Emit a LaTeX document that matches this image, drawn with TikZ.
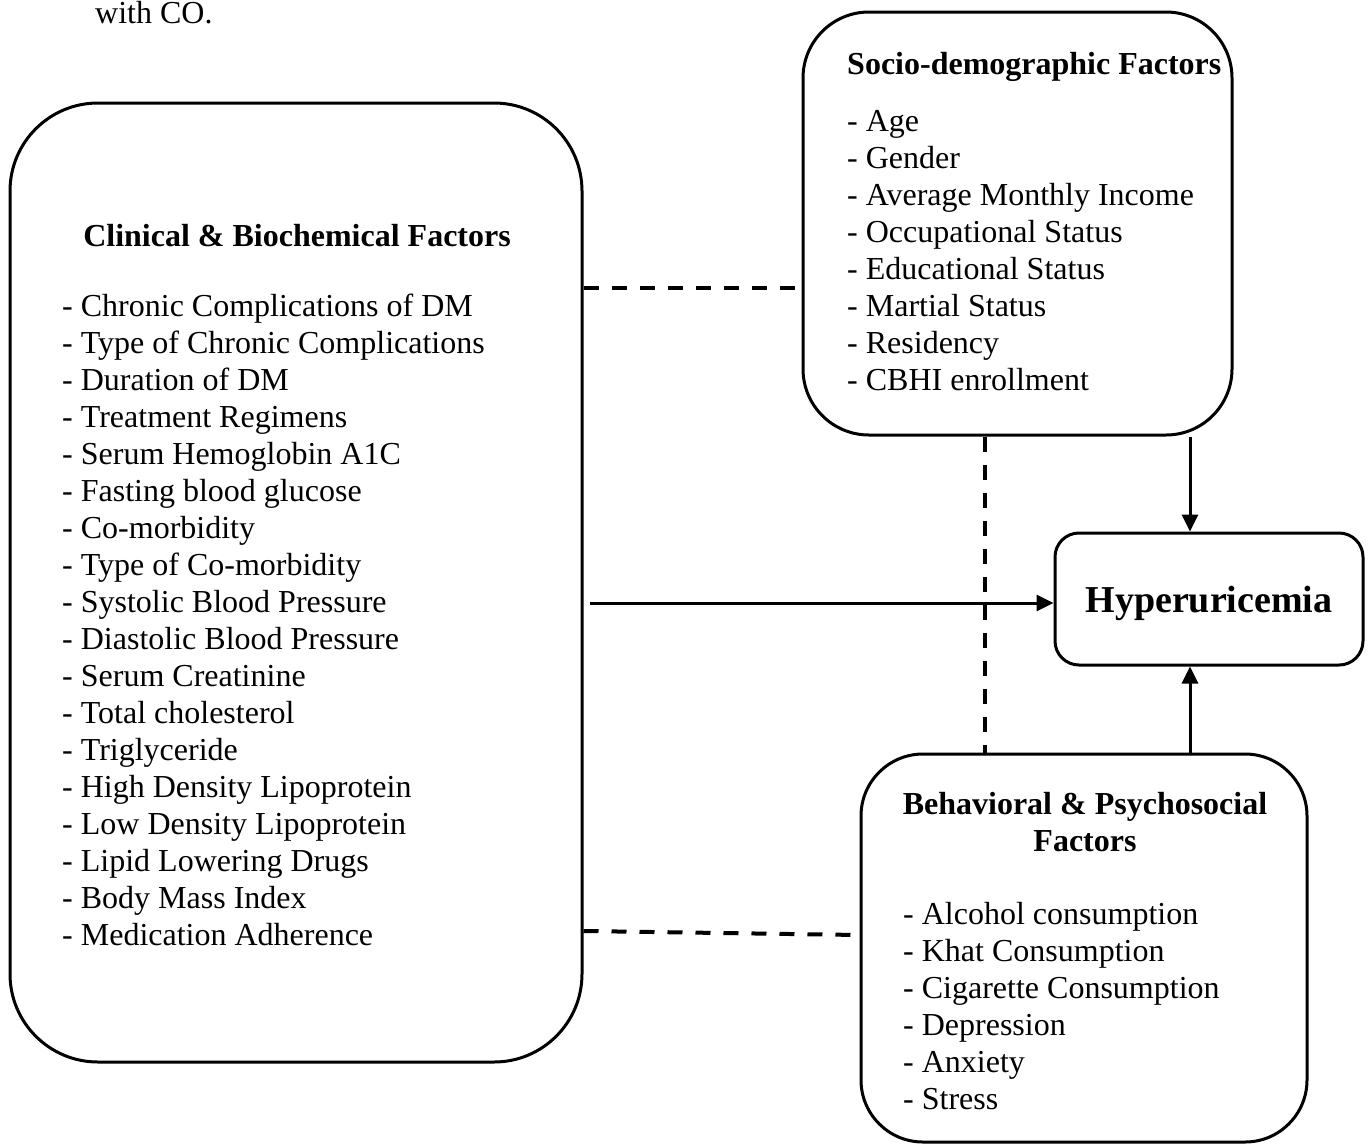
\documentclass[tikz,border=0pt]{standalone}
\usepackage{fontspec}
\setmainfont{Liberation Serif}
\usetikzlibrary{arrows.meta,calc}
\begin{document}
\begin{tikzpicture}[x=1pt,y=-1pt,
  box/.style={draw, line width=3pt, inner sep=0pt},
  item/.style={inner sep=0pt, anchor=base west, font=\fontsize{32}{37}\selectfont},
  head/.style={inner sep=0pt, anchor=base, font=\fontsize{32}{37}\selectfont\bfseries},
  arr/.style={line width=3pt, -{Triangle[length=17pt,width=16pt]}},
  dashline/.style={line width=4pt, dash pattern=on 15pt off 13pt}]
\useasboundingbox (0,0) rectangle (1368,1144);

% boxes
\node[box, rounded corners=88pt, minimum width=572pt, minimum height=959pt] (clin) at (296,582.5) {};
\node[box, rounded corners=66pt, minimum width=429pt, minimum height=423pt] (socio) at (1017.5,223.5) {};
\node[box, rounded corners=62pt, minimum width=446pt, minimum height=388pt] (behav) at (1084,948) {};
\node[box, rounded corners=24pt, minimum width=308pt, minimum height=132pt] (hyp) at (1209,599) {};

% texts
\node[item] (note) at (95,23) {with CO.};
\node[inner sep=0pt, anchor=base, font=\fontsize{38}{44}\selectfont\bfseries] (hyptext) at (1209,612) {Hyperuricemia};

\node[head] (clinhead) at (297,246) {Clinical \& Biochemical Factors};
\foreach \t [count=\i] in {Chronic Complications of DM, Type of Chronic Complications, Duration of DM, Treatment Regimens, Serum Hemoglobin A1C, Fasting blood glucose, Co-morbidity, Type of Co-morbidity, Systolic Blood Pressure, Diastolic Blood Pressure, Serum Creatinine, Total cholesterol, Triglyceride, High Density Lipoprotein, Low Density Lipoprotein, Lipid Lowering Drugs, Body Mass Index, Medication Adherence}
  \node[item] (cl\i) at (62,{316+37*(\i-1)}) {- \t};

\node[head, anchor=base west] (sochead) at (847,74) {Socio-demographic Factors};
\foreach \t [count=\i] in {Age, Gender, Average Monthly Income, Occupational Status, Educational Status, Martial Status, Residency, CBHI enrollment}
  \node[item] (so\i) at (847,{131+37*(\i-1)}) {- \t};

\node[head] (behhead1) at (1085,814) {Behavioral \& Psychosocial};
\node[head] (behhead2) at (1085,851) {Factors};
\foreach \t [count=\i] in {Alcohol consumption, Khat Consumption, Cigarette Consumption, Depression, Anxiety, Stress}
  \node[item] (be\i) at (903,{924+37*(\i-1)}) {- \t};

% connectors
\draw[arr] ([xshift=6pt,yshift=-4pt]clin.east |- hyp.west) -- ([yshift=-4pt]hyp.west);
\draw[arr] ([xshift=-19pt]hyp.north |- socio.south) -- ([xshift=-19pt]hyp.north);
\draw[arr] ([xshift=-19pt]hyp.south |- behav.north) -- ([xshift=-19pt]hyp.south);
\draw[dashline] (clin.east |- 0,288) -- (socio.west |- 0,288);
\draw[dashline] (clin.east |- 0,931) -- (behav.west |- 0,935);
\draw[dashline] ([xshift=-32.5pt]socio.south) -- ([xshift=-32.5pt]socio.south |- behav.north);
\end{tikzpicture}
\end{document}
